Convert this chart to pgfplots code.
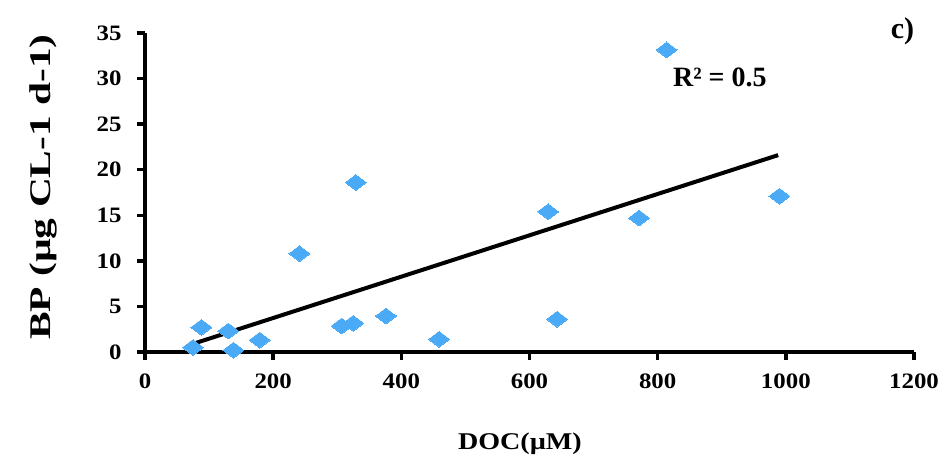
\documentclass[border=0pt]{standalone}
\usepackage{fontspec}
\setmainfont{Liberation Serif}
\newfontfamily\tickfont[FakeStretch=1.13]{Liberation Serif}
\newfontfamily\xlabfont[FakeStretch=1.17]{Liberation Serif}
\newfontfamily\ylabfont[FakeStretch=1.38]{Liberation Serif}
\usepackage{pgfplots}
\pgfplotsset{compat=1.18}
\definecolor{ptblue}{RGB}{75,170,245}
\begin{document}
\begin{tikzpicture}
\useasboundingbox (-145pt,-113pt) rectangle (793pt,352pt);
\begin{axis}[
 at={(0pt,0pt)}, anchor=south west,
 scale only axis, width=769pt, height=319pt,
 xmin=0, xmax=1200, ymin=0, ymax=35,
 axis x line=bottom, axis y line=left,
 axis line style={line width=3.5pt, -},
 xtick={0,200,...,1200}, ytick={0,5,...,35},
 tick align=outside, major tick length=8pt,
 tick style={line width=3.5pt, black},
 /pgf/number format/assume math mode=true,
 /pgf/number format/1000 sep={},
 ticklabel style={font=\tickfont\bfseries\fontsize{22}{24}\selectfont},
 yticklabel style={xshift=-12pt},
 xticklabel style={yshift=-10pt},
 xlabel={\xlabfont\bfseries\fontsize{24}{28}\selectfont DOC(µM)},
 xlabel style={at={(axis description cs:0.4876,0)}, anchor=center, yshift=-92pt},
 clip=false,
]
\addplot[ptblue, only marks, mark=diamond*, mark size=10.5pt, mark options={rotate=90, fill=ptblue, draw=ptblue, line width=0pt}] coordinates {
 (75,0.5) (88,2.7) (130,2.3) (138,0.2) (179,1.3) (241,10.8) (307,2.85) (325,3.15)
 (329,18.6) (376,3.95) (459,1.4) (629,15.4) (643,3.6) (771,14.7) (814,33.15) (990,17.1)
};
\addplot[black, line width=4pt] coordinates {(73,0.85) (988,21.6)};
\node at (axis cs:897,30.1) {\bfseries\fontsize{28}{32}\selectfont R² = 0.5};
\node at (axis cs:1182,35.2) {\bfseries\fontsize{30}{34}\selectfont c)};
\node[rotate=90, anchor=center] at (axis description cs:-0.1326,0.517) {\ylabfont\bfseries\fontsize{30}{34}\selectfont BP (µg CL-1 d-1)};
\end{axis}
\end{tikzpicture}
\end{document}
